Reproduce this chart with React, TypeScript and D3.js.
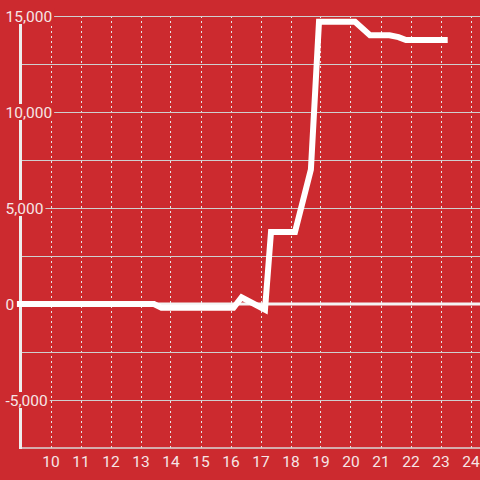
import React, { useEffect, useRef } from "react";
import * as d3 from "d3";

const xValues = [8.88, 13.45, 13.7, 16.1, 16.37, 17.15, 17.35, 18.15, 18.68, 18.95, 20.15, 20.65, 21.3, 21.6, 21.85, 23.24];
const yValues = [0, 0, -200, -200, 350, -300, 3750, 3750, 7000, 14700, 14700, 14000, 14000, 13900, 13750, 13750];
const xTicks = [10, 11, 12, 13, 14, 15, 16, 17, 18, 19, 20, 21, 22, 23, 24];
const yLabelTicks = [15000, 10000, 5000, 0, -5000];
const yGridTicks = [15000, 12500, 10000, 7500, 5000, 2500, -2500, -5000];

const W = 480;
const H = 480;
const BG = "#cc2a2f";

export default function App() {
  const ref = useRef<SVGSVGElement>(null);
  useEffect(() => {
    const svg = d3.select(ref.current);
    svg.selectAll("*").remove();
    const x = d3.scaleLinear().domain([9, 24]).range([20.5, 470.5]);
    const y = d3.scaleLinear().domain([15000, -7500]).range([16, 448]);

    svg.append("rect").attr("width", W).attr("height", H).attr("fill", BG);

    // vertical dashed gridlines
    svg.append("g").selectAll("line").data(xTicks).join("line")
      .attr("x1", (d) => Math.round(x(d)) + 0.5).attr("x2", (d) => Math.round(x(d)) + 0.5)
      .attr("y1", y(15000)).attr("y2", y(-7500))
      .attr("stroke", "#e6e6e6").attr("stroke-width", 1).attr("stroke-dasharray", "2,3");

    // horizontal gridlines
    svg.append("g").selectAll("line").data(yGridTicks).join("line")
      .attr("x1", 20).attr("x2", W)
      .attr("y1", (d) => y(d) + 0.5).attr("y2", (d) => y(d) + 0.5)
      .attr("stroke", "#cfcfcf").attr("stroke-width", 1);

    // x axis line
    svg.append("line").attr("x1", 20).attr("x2", W).attr("y1", y(-7500)).attr("y2", y(-7500))
      .attr("stroke", "#d8d8d8").attr("stroke-width", 1.5);

    // zero line
    svg.append("line").attr("x1", 20).attr("x2", W).attr("y1", y(0)).attr("y2", y(0))
      .attr("stroke", "#f4f4f4").attr("stroke-width", 3);

    // y axis line
    svg.append("line").attr("x1", 20.5).attr("x2", 20.5).attr("y1", y(15000)).attr("y2", y(-7500) + 1)
      .attr("stroke", "#eeeeee").attr("stroke-width", 3);

    // y labels with background
    const fmt = d3.format(",");
    const gl = svg.append("g");
    yLabelTicks.forEach((v) => {
      const g = gl.append("g");
      const r = g.append("rect").attr("fill", BG);
      const t = g.append("text").attr("x", 5.5).attr("y", y(v)).attr("dy", "0.36em")
        .attr("font-family", "Roboto, sans-serif").attr("font-size", 15.5)
        .attr("fill", "#f6e6e6").text(fmt(v).replace("−", "-"));
      const bb = (t.node() as SVGTextElement).getBBox();
      r.attr("x", 0).attr("y", y(v) - 8).attr("width", bb.x + bb.width + 2).attr("height", 16);
    });

    // data line
    const pts = xValues.map((xv, i) => [xv, yValues[i]] as [number, number]);
    const line = d3.line<[number, number]>().x((d) => x(d[0])).y((d) => y(d[1]));
    svg.append("path").attr("d", line(pts)).attr("fill", "none")
      .attr("stroke", "#ffffff").attr("stroke-width", 6).attr("stroke-linejoin", "miter");

    // x labels
    svg.append("g").selectAll("text").data(xTicks).join("text")
      .attr("x", (d) => x(d) + 0.5).attr("y", 466.5).attr("text-anchor", "middle")
      .attr("font-family", "Roboto, sans-serif").attr("font-size", 15.5)
      .attr("fill", "#f6e6e6").text((d) => String(d));
  }, []);
  return (
    <svg ref={ref} width={W} height={H} style={{ position: "fixed", left: 0, top: 0 }} />
  );
}
